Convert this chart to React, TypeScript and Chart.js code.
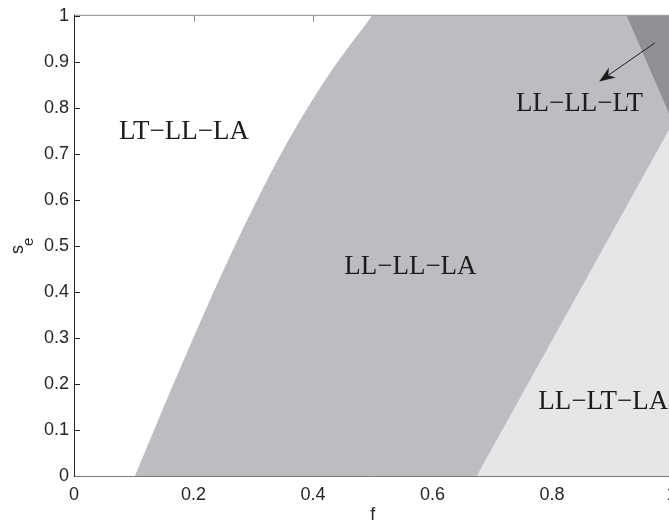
import React, { useEffect, useRef } from 'react';
import { Chart, registerables } from 'chart.js';

Chart.register(...registerables);

// Axis ticks
const xTickValues = [0, 0.2, 0.4, 0.6, 0.8, 1];
const yTickValues = [0, 0.1, 0.2, 0.3, 0.4, 0.5, 0.6, 0.7, 0.8, 0.9, 1];

// Left boundary of LL-LL-LA region (f, s_e)
const boundaryF = [0.102, 0.142, 0.183, 0.225, 0.269, 0.316, 0.368, 0.428, 0.499];
const boundaryS = [0, 0.125, 0.25, 0.375, 0.5, 0.625, 0.75, 0.875, 1];

// Top edge of LL-LL-LA region right of the boundary
const topF = [0.497, 1];
const topS = [1, 1];

// Boundary of LL-LT-LA region
const lowerF = [0.674, 1];
const lowerS = [0, 0.762];

// Boundary of the dark region (top right)
const upperF = [0.925, 1];
const upperS = [1, 0.776];

// Region labels
const regionNames = ['LT\u2212LL\u2212LA', 'LL\u2212LL\u2212LA', 'LL\u2212LL\u2212LT', 'LL\u2212LT\u2212LA'];
const regionF = [0.184, 0.563, 0.846, 0.777];
const regionS = [0.733, 0.44, 0.794, 0.145];
const regionAlign = ['center', 'center', 'center', 'left'];

// Arrow (tail -> head)
const arrowF = [0.972, 0.879];
const arrowS = [0.941, 0.857];

const COLOR_MID = '#bcbdc1';
const COLOR_LIGHT = '#e5e6e8';
const COLOR_DARK = '#8f9094';

const toPts = (xs: number[], ys: number[]) => xs.map((x, i) => ({ x, y: ys[i] }));

const framePlugin = {
  id: 'framePlugin',
  beforeDraw(chart: any) {
    const { ctx, chartArea, scales } = chart;
    const xs = scales.x;
    const ys = scales.y;
    ctx.save();
    ctx.lineWidth = 1;
    ctx.strokeStyle = '#222';
    yTickValues.forEach((v) => {
      const py = Math.round(ys.getPixelForValue(v)) + 0.5;
      ctx.beginPath();
      ctx.moveTo(chartArea.left, py);
      ctx.lineTo(chartArea.left + 6, py);
      ctx.stroke();
    });
    ctx.strokeStyle = '#888';
    xTickValues.forEach((v) => {
      const px = Math.round(xs.getPixelForValue(v)) + 0.5;
      ctx.beginPath();
      ctx.moveTo(px, chartArea.top);
      ctx.lineTo(px, chartArea.top + 6);
      ctx.stroke();
      ctx.beginPath();
      ctx.moveTo(px, chartArea.bottom);
      ctx.lineTo(px, chartArea.bottom - 6);
      ctx.stroke();
    });
    ctx.restore();
  },
  afterDatasetsDraw(chart: any) {
    const { ctx, chartArea, scales } = chart;
    const xs = scales.x;
    const ys = scales.y;
    ctx.save();
    ctx.lineWidth = 1;
    ctx.strokeStyle = '#8a8a8a';
    ctx.beginPath();
    ctx.moveTo(chartArea.left, chartArea.top - 0.5);
    ctx.lineTo(chartArea.right, chartArea.top - 0.5);
    ctx.stroke();
    ctx.strokeStyle = '#7a7a7a';
    ctx.beginPath();
    ctx.moveTo(chartArea.left, chartArea.bottom + 0.5);
    ctx.lineTo(chartArea.right, chartArea.bottom + 0.5);
    ctx.stroke();
    ctx.strokeStyle = '#222';
    ctx.beginPath();
    ctx.moveTo(chartArea.left + 0.5, chartArea.top - 1);
    ctx.lineTo(chartArea.left + 0.5, chartArea.bottom + 1);
    ctx.stroke();

    // region labels
    ctx.fillStyle = '#1c1c1c';
    ctx.font = '27px "Liberation Serif", "Times New Roman", serif';
    ctx.textBaseline = 'alphabetic';
    regionNames.forEach((name, i) => {
      ctx.textAlign = regionAlign[i];
      ctx.fillText(name, xs.getPixelForValue(regionF[i]), ys.getPixelForValue(regionS[i]));
    });

    // arrow
    const x0 = xs.getPixelForValue(arrowF[0]);
    const y0 = ys.getPixelForValue(arrowS[0]);
    const x1 = xs.getPixelForValue(arrowF[1]);
    const y1 = ys.getPixelForValue(arrowS[1]);
    const ang = Math.atan2(y1 - y0, x1 - x0);
    const L = 16;
    const W = 6;
    const N = 11;
    const bx = x1 - L * Math.cos(ang);
    const by = y1 - L * Math.sin(ang);
    const nx = x1 - N * Math.cos(ang);
    const ny = y1 - N * Math.sin(ang);
    ctx.strokeStyle = '#1c1c1c';
    ctx.lineWidth = 1;
    ctx.beginPath();
    ctx.moveTo(x0, y0);
    ctx.lineTo(nx, ny);
    ctx.stroke();
    ctx.beginPath();
    ctx.moveTo(x1, y1);
    ctx.lineTo(bx - W * Math.sin(ang), by + W * Math.cos(ang));
    ctx.lineTo(nx, ny);
    ctx.lineTo(bx + W * Math.sin(ang), by - W * Math.cos(ang));
    ctx.closePath();
    ctx.fillStyle = '#1c1c1c';
    ctx.fill();

    // axis titles
    ctx.fillStyle = '#262626';
    ctx.font = '18px "Liberation Sans", Arial, sans-serif';
    ctx.textAlign = 'center';
    ctx.textBaseline = 'alphabetic';
    ctx.fillText('f', (chartArea.left + chartArea.right) / 2, 520);

    ctx.save();
    ctx.translate(23, 254);
    ctx.rotate(-Math.PI / 2);
    ctx.textAlign = 'left';
    ctx.font = '18px "Liberation Sans", Arial, sans-serif';
    ctx.fillText('s', 0, 0);
    const w = ctx.measureText('s').width;
    ctx.font = '15px "Liberation Sans", Arial, sans-serif';
    ctx.fillText('e', w - 1, 10);
    ctx.restore();

    ctx.restore();
  },
};

export default function App() {
  const ref = useRef<HTMLCanvasElement | null>(null);

  useEffect(() => {
    document.documentElement.style.overflow = 'hidden';
    document.body.style.overflow = 'hidden';
    const canvas = ref.current;
    if (!canvas) return;
    const tickFont = { family: '"Liberation Sans", Arial, sans-serif', size: 18 };
    const region = (xs: number[], ys: number[], fill: string, color: string, extra: any = {}) => ({
      data: toPts(xs, ys),
      fill,
      backgroundColor: color,
      borderColor: 'rgba(0,0,0,0)',
      borderWidth: 0,
      pointRadius: 0,
      ...extra,
    });
    const chart = new Chart(canvas, {
      type: 'line',
      data: {
        datasets: [
          region(upperF, upperS, 'end', COLOR_DARK),
          region(lowerF, lowerS, 'start', COLOR_LIGHT),
          region(topF, topS, 'start', COLOR_MID),
          region(boundaryF, boundaryS, 'start', COLOR_MID, { cubicInterpolationMode: 'monotone' }),
        ],
      } as any,
      options: {
        animation: false,
        responsive: false,
        events: [],
        layout: { padding: { top: 15, right: 28.5, left: 0, bottom: 0 } },
        plugins: { legend: { display: false }, tooltip: { enabled: false } },
        scales: {
          x: {
            type: 'linear',
            min: 0,
            max: 1,
            afterBuildTicks: (scale: any) => {
              scale.ticks = xTickValues.map((v) => ({ value: v }));
            },
            afterFit: (scale: any) => {
              scale.height = 46;
            },
            grid: { display: false, drawTicks: false },
            border: { display: false },
            ticks: {
              font: tickFont,
              color: '#262626',
              padding: 8,
              maxRotation: 0,
              autoSkip: false,
              callback: (v: any) => String(Number(Number(v).toFixed(1))),
            },
          },
          y: {
            type: 'linear',
            min: 0,
            max: 1,
            afterBuildTicks: (scale: any) => {
              scale.ticks = yTickValues.map((v) => ({ value: v }));
            },
            afterFit: (scale: any) => {
              scale.width = 74;
            },
            grid: { display: false, drawTicks: false },
            border: { display: false },
            ticks: {
              font: tickFont,
              color: '#262626',
              padding: 5,
              autoSkip: false,
              callback: (v: any) => String(Number(Number(v).toFixed(1))),
            },
          },
        },
      } as any,
      plugins: [framePlugin],
    });
    return () => chart.destroy();
  }, []);

  return (
    <div style={{ position: 'fixed', left: 0, top: 0, width: 700, height: 522, background: '#fff' }}>
      <canvas ref={ref} width={700} height={522} style={{ display: 'block' }} />
    </div>
  );
}
